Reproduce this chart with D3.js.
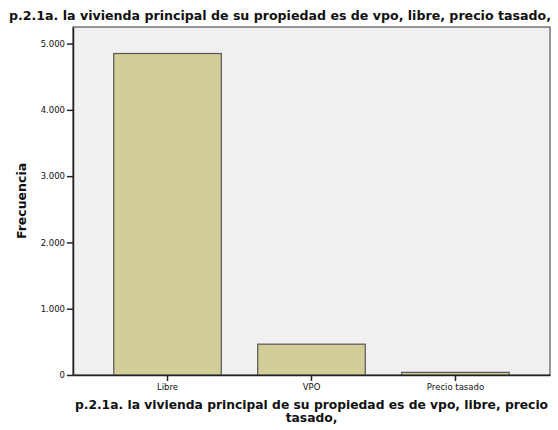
<!DOCTYPE html>
<html>
<head>
<meta charset="utf-8">
<script src="https://cdn.jsdelivr.net/npm/d3@7"></script>
<style>
  body { margin: 0; background: #fff; }
  text { font-family: "DejaVu Sans", sans-serif; fill: #111; }
</style>
</head>
<body>
<div id="container"></div>
<script>
// data
var categories = ["Libre", "VPO", "Precio tasado"];
var frecuencias = [4850, 465, 40];
var yTicks = [0, 1000, 2000, 3000, 4000, 5000];
var titulo = "p.2.1a. la vivienda principal de su propiedad es de vpo, libre, precio tasado,";
var tituloX = ["p.2.1a. la vivienda principal de su propiedad es de vpo, libre, precio", "tasado,"];

var W = 558, H = 430;
var m = { top: 27, right: 8, bottom: 55, left: 73 };

var svg = d3.select("#container").append("svg")
  .attr("width", W)
  .attr("height", H);

var x = d3.scaleBand()
  .domain(categories)
  .range([m.left, W - m.right])
  .paddingInner(0.253)
  .paddingOuter(0.283);

var y = d3.scaleLinear()
  .domain([0, 5250])
  .range([H - m.bottom, m.top]);

var fmt = function (d) { return d3.format(",")(d).replace(/,/g, "."); };

// plot background
svg.append("rect")
  .attr("x", m.left)
  .attr("y", m.top)
  .attr("width", W - m.right - m.left)
  .attr("height", H - m.bottom - m.top)
  .attr("fill", "#f0f0f0")
  .attr("stroke", "#333")
  .attr("stroke-width", 1);

// bars
svg.append("g").selectAll("rect")
  .data(frecuencias)
  .enter().append("rect")
  .attr("x", function (d, i) { return x(categories[i]); })
  .attr("y", function (d) { return y(d); })
  .attr("width", x.bandwidth())
  .attr("height", function (d) { return y(0) - y(d); })
  .attr("fill", "#d3ce97")
  .attr("stroke", "#555")
  .attr("stroke-width", 1.2);

//axes
var yAxis = svg.append("g")
  .attr("transform", "translate(" + m.left + ",0)")
  .call(d3.axisLeft(y).tickValues(yTicks).tickFormat(fmt).tickSizeInner(6).tickSizeOuter(0).tickPadding(2));

var xAxis = svg.append("g")
  .attr("transform", "translate(0," + (H - m.bottom) + ")")
  .call(d3.axisBottom(x).tickSizeInner(6).tickSizeOuter(0).tickPadding(3));

[yAxis, xAxis].forEach(function (a) {
  a.select(".domain").attr("stroke", "#222").attr("stroke-width", 1.5);
  a.selectAll(".tick line").attr("stroke", "#222").attr("stroke-width", 1.5);
  a.selectAll(".tick text")
    .style("font-family", "'DejaVu Sans', sans-serif")
    .style("font-size", "8.5px")
    .attr("fill", "#222");
});

// titles
svg.append("text")
  .attr("x", 9)
  .attr("y", 20)
  .style("font-size", "12.6px")
  .style("font-weight", "bold")
  .text(titulo);

svg.append("text")
  .attr("transform", "translate(26," + ((m.top + H - m.bottom) / 2) + ") rotate(-90)")
  .attr("text-anchor", "middle")
  .style("font-size", "12.5px")
  .style("font-weight", "bold")
  .text("Frecuencia");

svg.append("g").selectAll("text")
  .data(tituloX)
  .enter().append("text")
  .attr("x", (m.left + W - m.right) / 2)
  .attr("y", function (d, i) { return 409 + i * 13; })
  .attr("text-anchor", "middle")
  .style("font-size", "12.3px")
  .style("font-weight", "bold")
  .text(function (d) { return d; });
</script>
</body>
</html>
